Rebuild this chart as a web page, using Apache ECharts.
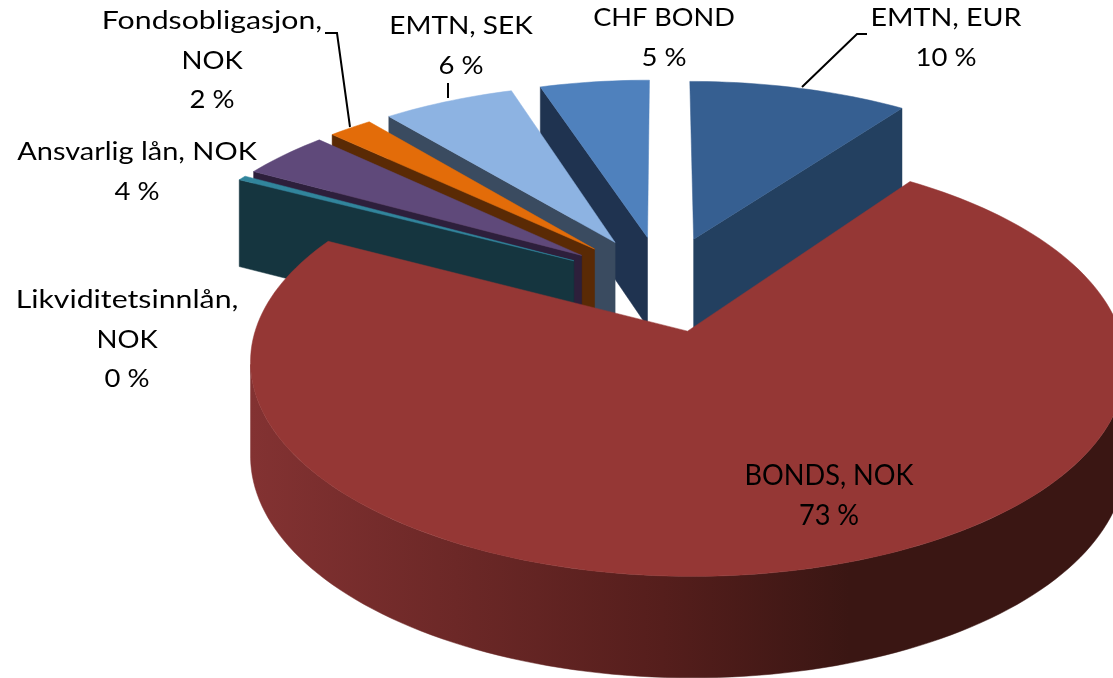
<!DOCTYPE html>
<html>
<head>
<meta charset="utf-8">
<style>
html, body { margin: 0; background: #fff; }
#chart { width: 1113px; height: 678px; }
</style>
<script src="https://cdn.jsdelivr.net/npm/echarts@6/dist/echarts.min.js"></script>
</head>
<body>
<div id="chart"></div>
<script>
// clockwise from 12 o'clock
const categories = ['EMTN, EUR', 'BONDS, NOK', 'Likviditetsinnlån,\nNOK', 'Ansvarlig lån, NOK', 'Fondsobligasjon,\nNOK', 'EMTN, SEK', 'CHF BOND'];
const values = [10, 73, 0.4, 4, 2, 6, 5];

const topColors = ['#365f91', '#953735', '#31859c', '#5f497a', '#e36c09', '#8db3e2', '#4f81bd'];
const wallColors = ['#234060', '#6a2524', '#15353f', '#2d1f3b', '#5a2a05', '#3a4b60', '#1f3350'];

// label anchor (centre x, y of first line), horizontal stretch
const labelPos = [[946, 18], [829, 476], [127, 300], [137, 152], [212, 21], [461, 26], [664, 18]];
const labelStretch = [1.144, 0.97, 1.21, 1.158, 1.21, 1.12, 1.085];
const leaders = [
    [[802, 87], [857, 34], [867, 34]],
    [[325, 33], [337, 33], [350, 127]],
    [[448, 83], [448, 98]]
];

// projection of the tilted disc
const cx = 663, cy = 283, tilt = 0.463, persp = 0.000355, perspZ = 0.0002;
const R = 417, explode = 103, H = 91;

const total = values.reduce((a, b) => a + b, 0);
let cum = 0;
const slices = values.map((v, i) => {
    const a = echarts.number.linearMap(cum, [0, total], [0, 360]);
    cum += v;
    const b = echarts.number.linearMap(cum, [0, total], [0, 360]);
    const mid = (a + b) / 2 * Math.PI / 180;
    return { i, a, b, ox: explode * Math.sin(mid), oy: explode * Math.cos(mid) };
});

function project(X, Y, bottom) {
    const w = 1 + persp * Y;
    return [cx + X / w, cy - tilt * Y / w + (bottom ? H / (1 + perspZ * Y) : 0)];
}
function rimPoint(s, deg, bottom) {
    const t = deg * Math.PI / 180;
    return project(s.ox + R * Math.sin(t), s.oy + R * Math.cos(t), bottom);
}
function arc(s, from, to, bottom) {
    const n = Math.max(2, Math.ceil(Math.abs(to - from) / 1.5));
    const pts = [];
    for (let j = 0; j <= n; j++) pts.push(rimPoint(s, from + (to - from) * j / n, bottom));
    return pts;
}
function poly(points, fill) {
    return {
        type: 'polygon',
        shape: { points: points },
        style: { fill: fill, stroke: fill, lineWidth: 0.5 }
    };
}

function renderSlice(params, api) {
    const s = slices[api.value(0)];
    const top = topColors[s.i], wall = wallColors[s.i];
    const a0 = project(s.ox, s.oy, false), a1 = project(s.ox, s.oy, true);
    const kids = [];
    // cut faces
    if (Math.sin(s.a * Math.PI / 180) < 0)
        kids.push(poly([a0, rimPoint(s, s.a, false), rimPoint(s, s.a, true), a1], wall));
    if (Math.sin(s.b * Math.PI / 180) > 0)
        kids.push(poly([a0, rimPoint(s, s.b, false), rimPoint(s, s.b, true), a1], wall));
    // rim, from the rightmost to the leftmost point of the arc
    const from = Math.max(s.a, 90), to = Math.min(s.b, 270);
    if (to > from) {
        const fill = new echarts.graphic.LinearGradient(250, 0, 1000, 0, [
            { offset: 0, color: '#833232' },
            { offset: 0.55, color: '#551e1c' },
            { offset: 0.8, color: '#3a1613' },
            { offset: 1, color: '#3a1613' }
        ], true);
        const upper = arc(s, from, to, false), lower = arc(s, from, to, true);
        const xs = upper.map(p => p[0]);
        const first = xs.indexOf(Math.max(...xs)), last = xs.indexOf(Math.min(...xs));
        kids.push(poly(upper.slice(first, last + 1).concat(lower.slice(first, last + 1).reverse()), fill));
    }
    kids.push(poly([a0].concat(arc(s, s.a, s.b, false)), top));
    return { type: 'group', children: kids };
}

// back to front
const drawOrder = slices.slice().sort((p, q) => q.oy - p.oy).map(s => [s.i]);

const graphics = [];
leaders.forEach(pts => {
    graphics.push({
        type: 'polyline', silent: true, z: 10,
        shape: { points: pts },
        style: { stroke: '#000', lineWidth: 2, fill: null }
    });
});
categories.forEach((name, i) => {
    const lines = name.split('\n').concat(Math.round(values[i]) + ' %');
    lines.forEach((line, n) => {
        graphics.push({
            type: 'text', silent: true, z: 11,
            x: labelPos[i][0], y: labelPos[i][1] + n * 39.5,
            scaleX: (line.length > 4 || i === 1) ? labelStretch[i] : 1.1,
            style: {
                text: line,
                font: (i === 1 ? '28px' : '25px') + ' Lato, "Noto Sans", sans-serif',
                fill: '#000', align: 'center', verticalAlign: 'middle'
            }
        });
    });
});

const chart = echarts.init(document.getElementById('chart'));
chart.setOption({
    animation: false,
    backgroundColor: '#fff',
    graphic: graphics,
    series: [{
        type: 'custom',
        coordinateSystem: 'none',
        silent: true,
        encode: { value: 0 },
        data: drawOrder,
        renderItem: renderSlice
    }]
});
</script>
</body>
</html>
